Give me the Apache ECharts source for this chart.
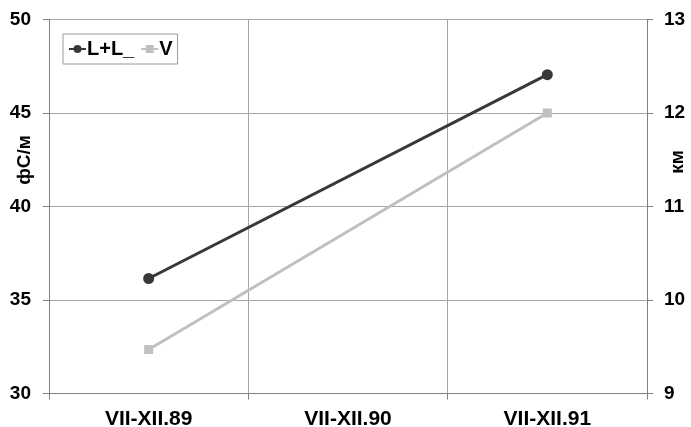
<!DOCTYPE html>
<html>
<head>
<meta charset="utf-8">
<script src="https://cdn.jsdelivr.net/npm/echarts@6/dist/echarts.min.js"></script>
<style>
  html, body { margin: 0; padding: 0; background: #fff; }
  #chart { width: 691px; height: 427px; }
</style>
</head>
<body>
<div id="chart"></div>
<script>
// Periods (half-years)
const categories = ['VII-XII.89', 'VII-XII.90', 'VII-XII.91'];
// L+L_ on the left axis (фС/м); no value for the middle period
const llValues = [36.15, null, 47.05];
// V on the right axis (км)
const vValues = [9.47, null, 12.0];
const leftTicks = { min: 30, max: 50, interval: 5 };
const rightTicks = { min: 9, max: 13, interval: 1 };
const leftUnit = 'фС/м';
const rightUnit = 'км';

const font = 'Liberation Sans, Arial, sans-serif';
const gridColor = '#a6a6a6';
const axisColor = '#808080';
const labelStyle = { fontFamily: font, fontWeight: 'bold', color: '#000' };

const chart = echarts.init(document.getElementById('chart'));
chart.setOption({
  animation: false,
  backgroundColor: '#fff',
  grid: { left: 49, right: 44, top: 19.5, bottom: 33.5, containLabel: false, outerBoundsMode: 'none' },
  legend: {
    left: 63, top: 34,
    orient: 'horizontal',
    borderColor: '#999', borderWidth: 1,
    padding: [5, 5, 5, 5],
    itemWidth: 17, itemHeight: 10, itemGap: 6,
    textStyle: Object.assign({ fontSize: 20, padding: [0, 0, 0, -4] }, labelStyle),
    data: ['L+L_', 'V']
  },
  // axis titles, rotated to read bottom-to-top
  graphic: [
    {
      type: 'text', x: 25, y: 160, rotation: Math.PI / 2,
      style: { text: leftUnit, fontSize: 19, align: 'center', verticalAlign: 'middle', fill: '#000', fontFamily: font, fontWeight: 'bold' }
    },
    {
      type: 'text', x: 678, y: 162, rotation: Math.PI / 2,
      style: { text: rightUnit, fontSize: 19, align: 'center', verticalAlign: 'middle', fill: '#000', fontFamily: font, fontWeight: 'bold' }
    }
  ],
  xAxis: {
    type: 'category',
    data: categories,
    boundaryGap: true,
    axisLine: { lineStyle: { color: axisColor, width: 1 } },
    axisTick: { show: true, length: 6, lineStyle: { color: axisColor } },
    splitLine: { show: true, lineStyle: { color: gridColor, width: 1 } },
    axisLabel: Object.assign({ margin: 15, fontSize: 21 }, labelStyle)
  },
  yAxis: [
    {
      type: 'value', position: 'left',
      min: leftTicks.min, max: leftTicks.max, interval: leftTicks.interval,
      axisLine: { show: true, lineStyle: { color: axisColor } },
      axisTick: { show: true, length: 6, lineStyle: { color: axisColor } },
      splitLine: { show: true, lineStyle: { color: gridColor, width: 1 } },
      axisLabel: Object.assign({ margin: 18, fontSize: 19 }, labelStyle)
    },
    {
      type: 'value', position: 'right',
      min: rightTicks.min, max: rightTicks.max, interval: rightTicks.interval,
      axisLine: { show: true, lineStyle: { color: axisColor } },
      axisTick: { show: true, length: 6, lineStyle: { color: axisColor } },
      splitLine: { show: false },
      axisLabel: Object.assign({ margin: 17, fontSize: 19 }, labelStyle)
    }
  ],
  series: [
    {
      name: 'L+L_', type: 'line', yAxisIndex: 0,
      data: llValues, connectNulls: true,
      symbol: 'circle', symbolSize: 11,
      lineStyle: { color: '#383838', width: 3 },
      itemStyle: { color: '#383838' }
    },
    {
      name: 'V', type: 'line', yAxisIndex: 1,
      data: vValues, connectNulls: true,
      symbol: 'rect', symbolSize: 9,
      lineStyle: { color: '#c0c0c0', width: 3 },
      itemStyle: { color: '#c0c0c0' }
    }
  ]
});
</script>
</body>
</html>
